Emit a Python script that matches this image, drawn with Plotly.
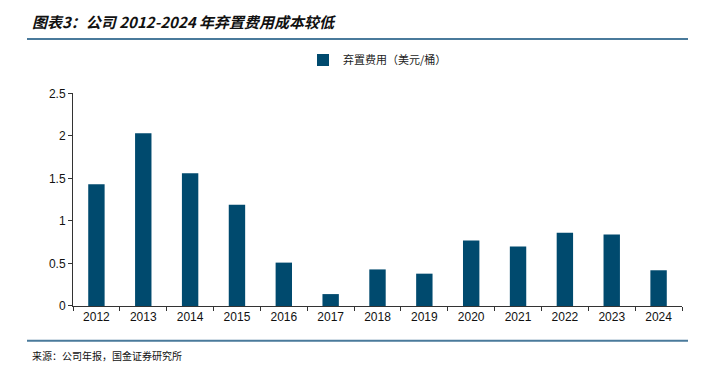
import plotly.graph_objects as go

years = ["2012", "2013", "2014", "2015", "2016", "2017", "2018", "2019", "2020", "2021", "2022", "2023", "2024"]
costs = [1.43, 2.03, 1.56, 1.19, 0.51, 0.14, 0.43, 0.38, 0.77, 0.70, 0.86, 0.84, 0.42]
series_name = "弃置费用（美元/桶）"
y_ticks = [0, 0.5, 1, 1.5, 2, 2.5]
y_ticklabels = ["0", "0.5", "1", "1.5", "2", "2.5"]

W, H = 703, 368
L, R, T, B = 73, 21, 91, 62

def to_paper_x(p):
    return (p - L) / (W - L - R)
def to_paper_y(p):
    return (H - B - p) / (H - T - B)

fig = go.Figure()
fig.add_trace(go.Bar(
    x=years, y=costs, name=series_name,
    marker=dict(color="#004a6e", line=dict(width=0)),
))

fig.update_layout(
    width=W, height=H,
    margin=dict(l=L, r=R, t=T, b=B),
    paper_bgcolor="white", plot_bgcolor="white",
    bargap=0.65,
    showlegend=True,
    legend=dict(orientation="h", x=0.5, xanchor="center", y=1 - 60 / H, yanchor="middle",
                yref="container", font=dict(family="Noto Sans CJK SC", size=11, color="#222"),
                itemwidth=30),
    font=dict(family="Liberation Sans", size=12, color="#111"),
    xaxis=dict(type="category", showline=True, linecolor="#333", linewidth=1,
               ticks="outside", tickson="boundaries", ticklen=4, tickcolor="#333",
               showgrid=False, tickfont=dict(size=12, color="#111")),
    yaxis=dict(range=[0, 2.5], tickvals=y_ticks, ticktext=y_ticklabels,
               showline=True, linecolor="#333", linewidth=1,
               ticks="outside", ticklen=4, tickcolor="#333",
               showgrid=False, zeroline=False, tickfont=dict(size=12, color="#111")),
    annotations=[
        dict(text="<b><i>图表3：公司 2012-2024 年弃置费用成本较低</i></b>",
             x=to_paper_x(30), y=to_paper_y(18), xref="paper", yref="paper",
             xanchor="left", yanchor="middle", showarrow=False,
             font=dict(family="Noto Sans CJK SC", size=15, color="#111")),
        dict(text="来源：公司年报，国金证券研究所",
             x=to_paper_x(30), y=to_paper_y(356), xref="paper", yref="paper",
             xanchor="left", yanchor="middle", showarrow=False,
             font=dict(family="Noto Sans CJK SC", size=10, color="#111")),
    ],
    shapes=[
        dict(type="line", xref="paper", yref="paper", x0=to_paper_x(27), x1=to_paper_x(688),
             y0=to_paper_y(36), y1=to_paper_y(36), line=dict(color="#4a7a9b", width=2)),
        dict(type="line", xref="paper", yref="paper", x0=to_paper_x(27), x1=to_paper_x(688),
             y0=to_paper_y(341), y1=to_paper_y(341), line=dict(color="#4a7a9b", width=2)),
    ],
)

fig.write_html("out.html", config={"displayModeBar": False},
               post_script="document.body.style.margin='0';document.body.style.overflow='hidden';")
